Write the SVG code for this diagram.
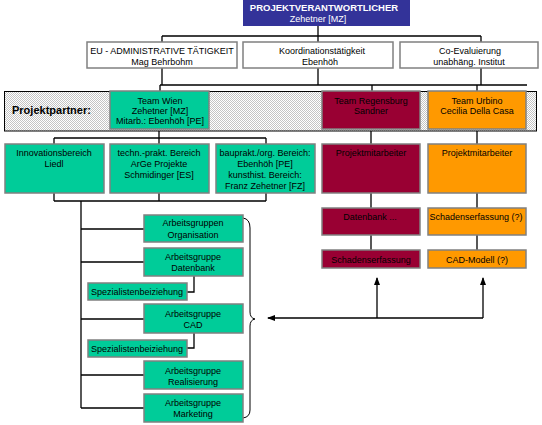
<svg xmlns="http://www.w3.org/2000/svg" width="542" height="425" viewBox="0 0 542 425">
<defs>
<pattern id="hatch" width="2" height="2" patternUnits="userSpaceOnUse">
<rect width="2" height="2" fill="#ffffff"/>
<rect width="1" height="1" fill="#c4c4c4"/>
<rect x="1" y="1" width="1" height="1" fill="#c4c4c4"/>
</pattern>
<marker id="ah" viewBox="0 0 8 8" refX="7" refY="4" markerWidth="8" markerHeight="8" markerUnits="userSpaceOnUse" orient="auto">
<path d="M0,1 L8,4 L0,7 Z" fill="#000"/>
</marker>
<style>
text{font-family:"Liberation Sans",Arial,sans-serif;font-size:9px;text-anchor:middle;fill:#000}
.w{fill:#fff}
.b{font-weight:bold}
.box{stroke:#808080;stroke-width:1.5}
.white{fill:#fff}
.green{fill:#00cc99}
.red{fill:#990033}
.orange{fill:#ff9900}
.ln{fill:none;stroke:#000;stroke-width:1.3}
</style>
</defs>

<g id="band">
<rect x="4.5" y="91.5" width="532" height="39.5" fill="url(#hatch)" stroke="#000" stroke-width="1"/>
<text x="12" y="114" class="b" style="text-anchor:start;font-size:11px">Projektpartner:</text>
</g>

<g id="connectors" class="ln">
<path d="M318,26 V36 M162,36 H481 M162,36 V42 M318,36 V42 M481,36 V42"/>
<path d="M162,68 V85 M318,68 V85 M481,68 V85 M160,85 H527 M160,85 V91 M372,85 V91 M477,85 V91"/>
<path d="M159,131 V138 M54,138 H266 M54,138 V144 M159,138 V144 M266,138 V144"/>
<path d="M371,131 V144 M477,131 V144"/>
<path d="M371,193 V208 M371,235 V250 M477,193 V208 M477,235 V250"/>
<path d="M54,193 V201 M159,193 V201 M266,193 V201 M54,201 H266 M81,201 V408"/>
<path d="M81,229 H144 M81,262 H144 M81,319 H144 M81,375 H144 M81,408 H144"/>
<path d="M194,276 V292 H187 M194,333 V348 H187"/>
<path d="M243,218 Q250,219 250,228 L250,312 Q250,318 255,319 Q250,320 250,326 L250,410 Q250,417 243,418" stroke-width="1"/>
<path d="M483,318 H268" marker-end="url(#ah)"/>
<path d="M377,318 V278" marker-end="url(#ah)"/>
<path d="M483,318 V278" marker-end="url(#ah)"/>
</g>

<g id="projektverantwortlicher">
<rect x="243" y="0" width="167" height="26" fill="#333399"/>
<text x="324" y="11" class="w b" style="font-size:9.5px">PROJEKTVERANTWORTLICHER</text>
<text x="318" y="22" class="w">Zehetner [MZ]</text>
</g>

<g id="eu-admin">
<rect x="87" y="42" width="150" height="26" class="box white"/>
<text x="162" y="54">EU - ADMINISTRATIVE TÄTIGKEIT</text>
<text x="162" y="65">Mag Behrbohm</text>
</g>
<g id="koordination">
<rect x="243" y="42" width="150" height="26" class="box white"/>
<text x="322" y="54">Koordinationstätigkeit</text>
<text x="320" y="65">Ebenhöh</text>
</g>
<g id="co-evaluierung">
<rect x="400" y="42" width="138" height="26" class="box white"/>
<text x="470" y="54">Co-Evaluierung</text>
<text x="469" y="65">unabhäng. Institut</text>
</g>

<g id="team-wien">
<rect x="110" y="91" width="99" height="38" class="box green"/>
<text x="160" y="104">Team Wien</text>
<text x="160" y="114">Zehetner [MZ]</text>
<text x="160" y="124">Mitarb.: Ebenhöh [PE]</text>
</g>
<g id="team-regensburg">
<rect x="322" y="91" width="98" height="38" class="box red"/>
<text x="371" y="104">Team Regensburg</text>
<text x="371" y="114">Sandner</text>
</g>
<g id="team-urbino">
<rect x="428" y="91" width="98" height="38" class="box orange"/>
<text x="477" y="104">Team Urbino</text>
<text x="477" y="114">Cecilia Della Casa</text>
</g>

<g id="innovationsbereich">
<rect x="5" y="144" width="99" height="49" class="box green"/>
<text x="54" y="156">Innovationsbereich</text>
<text x="54" y="167">Liedl</text>
</g>
<g id="techn-prakt">
<rect x="110" y="144" width="99" height="49" class="box green"/>
<text x="159" y="156">techn.-prakt. Bereich</text>
<text x="159" y="167">ArGe Projekte</text>
<text x="159" y="178">Schmidinger [ES]</text>
</g>
<g id="bauprakt">
<rect x="216" y="144" width="99" height="49" class="box green"/>
<text x="265" y="156">bauprakt./org. Bereich:</text>
<text x="265" y="167">Ebenhöh [PE]</text>
<text x="265" y="178">kunsthist. Bereich:</text>
<text x="265" y="188.5">Franz Zehetner [FZ]</text>
</g>
<g id="projektmitarbeiter-r">
<rect x="322" y="144" width="98" height="49" class="box red"/>
<text x="371" y="156">Projektmitarbeiter</text>
</g>
<g id="projektmitarbeiter-u">
<rect x="428" y="144" width="98" height="49" class="box orange"/>
<text x="477" y="156">Projektmitarbeiter</text>
</g>

<g id="datenbank-r">
<rect x="322" y="208" width="98" height="27" class="box red"/>
<text x="370" y="220">Datenbank ...</text>
</g>
<g id="schadenserfassung-u">
<rect x="428" y="208" width="98" height="27" class="box orange"/>
<text x="476" y="220">Schadenserfassung (?)</text>
</g>
<g id="schadenserfassung-r">
<rect x="322" y="250" width="98" height="18" class="box red"/>
<text x="371" y="263">Schadenserfassung</text>
</g>
<g id="cad-modell">
<rect x="428" y="250" width="98" height="18" class="box orange"/>
<text x="477" y="263">CAD-Modell (?)</text>
</g>

<g id="ag-organisation">
<rect x="144" y="215" width="99" height="27" class="box green"/>
<text x="193" y="226">Arbeitsgruppen</text>
<text x="193" y="237.5">Organisation</text>
</g>
<g id="ag-datenbank">
<rect x="144" y="248" width="99" height="28" class="box green"/>
<text x="193" y="259.5">Arbeitsgruppe</text>
<text x="193" y="271">Datenbank</text>
</g>
<g id="spez-1">
<rect x="88" y="283" width="99" height="17" class="box green"/>
<text x="137" y="295">Spezialistenbeiziehung</text>
</g>
<g id="ag-cad">
<rect x="144" y="304" width="99" height="29" class="box green"/>
<text x="193" y="317">Arbeitsgruppe</text>
<text x="193" y="328">CAD</text>
</g>
<g id="spez-2">
<rect x="88" y="340" width="99" height="17" class="box green"/>
<text x="137" y="352">Spezialistenbeiziehung</text>
</g>
<g id="ag-realisierung">
<rect x="144" y="361" width="99" height="28" class="box green"/>
<text x="193" y="374">Arbeitsgruppe</text>
<text x="193" y="385">Realisierung</text>
</g>
<g id="ag-marketing">
<rect x="144" y="394" width="99" height="28" class="box green"/>
<text x="193" y="406">Arbeitsgruppe</text>
<text x="193" y="417">Marketing</text>
</g>
</svg>
